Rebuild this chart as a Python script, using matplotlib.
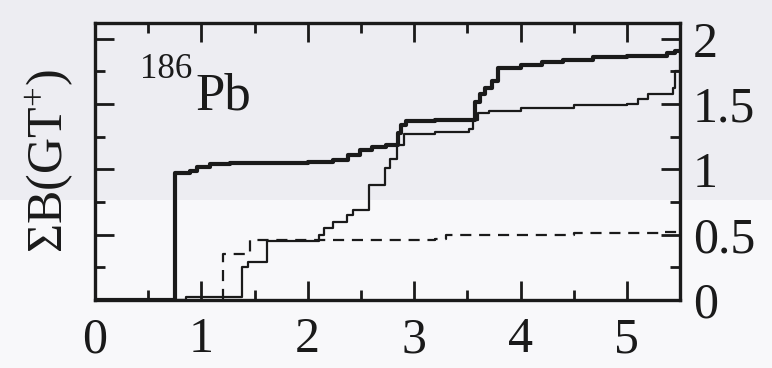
import matplotlib
matplotlib.use("Agg")
import matplotlib.pyplot as plt
from matplotlib.patches import Rectangle
from matplotlib.ticker import MultipleLocator

plt.rcParams['font.family'] = ['Liberation Serif', 'DejaVu Serif']
plt.rcParams['mathtext.fontset'] = 'custom'
plt.rcParams['mathtext.rm'] = 'Liberation Serif'
plt.rcParams['mathtext.it'] = 'Liberation Serif:italic'

# thick solid curve (running sum)
thick_x = [0, 0.75, 0.89, 0.96, 1.08, 1.27, 2.0, 2.24, 2.38, 2.49, 2.6, 2.74,
           2.85, 2.88, 2.92, 3.2, 3.57, 3.62, 3.67, 3.73, 3.79, 4.0, 4.2, 4.4,
           4.68, 5.0, 5.38, 5.45, 5.5]
thick_y = [0, 0.97, 0.99, 1.02, 1.04, 1.05, 1.055, 1.07, 1.11, 1.15, 1.17, 1.19,
           1.28, 1.34, 1.37, 1.38, 1.52, 1.58, 1.62, 1.68, 1.78, 1.80, 1.82, 1.84,
           1.86, 1.87, 1.89, 1.91, 1.91]

# thin solid curve
thin_x = [0, 0.86, 1.38, 1.44, 1.62, 2.11, 2.15, 2.24, 2.37, 2.43, 2.58, 2.73,
          2.77, 2.84, 2.9, 3.2, 3.52, 3.55, 3.6, 3.7, 4.0, 4.5, 5.0, 5.1, 5.2,
          5.43, 5.45, 5.5]
thin_y = [0, 0.02, 0.25, 0.29, 0.45, 0.50, 0.55, 0.60, 0.65, 0.69, 0.88, 1.01,
          1.08, 1.19, 1.27, 1.29, 1.31, 1.38, 1.43, 1.45, 1.47, 1.49, 1.50, 1.54,
          1.58, 1.62, 1.75, 1.75]

# dashed curve
dash_x = [1.2, 1.2, 1.46, 3.2, 3.3, 4.5, 5.3, 5.5]
dash_y = [0, 0.35, 0.46, 0.47, 0.50, 0.51, 0.52, 0.52]

fig = plt.figure(figsize=(7.72, 3.68), dpi=100, facecolor='#f8f8fa')
fig.patches.append(Rectangle((0, 0.457), 1, 0.543, transform=fig.transFigure,
                             facecolor='#ededf2', edgecolor='none', zorder=-10))
ax = fig.add_axes([0.123, 0.185, 0.758, 0.752])
ax.set_facecolor('none')

ax.plot(thick_x, thick_y, drawstyle='steps-post', color='#1a1a1a', lw=3.0)
ax.plot(thin_x, thin_y, drawstyle='steps-post', color='#1a1a1a', lw=1.6)
ax.plot(dash_x, dash_y, drawstyle='steps-post', color='#1a1a1a', lw=1.6,
        dashes=(5, 3.5))

ax.set_xlim(0, 5.5)
ax.set_ylim(0, 2.12)
ax.xaxis.set_major_locator(MultipleLocator(1))
ax.xaxis.set_minor_locator(MultipleLocator(0.5))
ax.yaxis.set_major_locator(MultipleLocator(0.5))
ax.yaxis.set_minor_locator(MultipleLocator(0.25))
ax.set_yticks([0, 0.5, 1, 1.5, 2], ['0', '0.5', '1', '1.5', '2'])

ax.tick_params(which='both', direction='in', top=True, right=True,
               labelleft=False, labelright=True, width=2.0, color='#1a1a1a',
               labelsize=36, labelcolor='#1a1a1a')
ax.tick_params(which='major', length=14)
ax.tick_params(which='minor', length=7)
ax.tick_params(axis='y', pad=9)
ax.tick_params(axis='x', pad=12)
for s in ax.spines.values():
    s.set_linewidth(2.4)
    s.set_color('#1a1a1a')

ax.set_ylabel('ΣB(GT$^{+}$)', fontsize=36, color='#1a1a1a', labelpad=14)
ax.text(0.077, 0.802, '186', transform=ax.transAxes, fontsize=25,
        color='#1a1a1a', va='baseline')
ax.text(0.171, 0.687, 'Pb', transform=ax.transAxes, fontsize=38,
        color='#1a1a1a', va='baseline')

plt.savefig('out.png', dpi=100, facecolor=fig.get_facecolor())
